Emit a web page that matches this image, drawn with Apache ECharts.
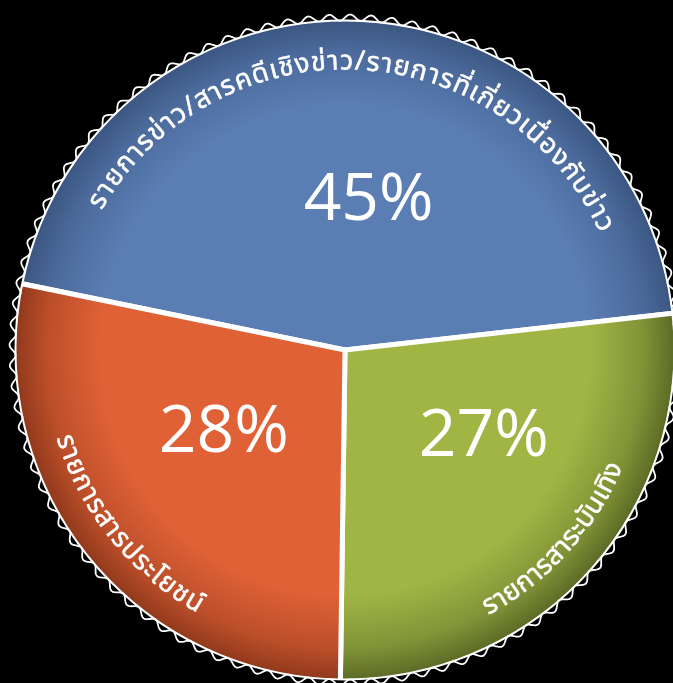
<!DOCTYPE html>
<html>
<head>
<meta charset="utf-8">
<script src="https://cdn.jsdelivr.net/npm/echarts@6/dist/echarts.min.js"></script>
<style>
html,body{margin:0;padding:0;background:#000;}
#chart{width:673px;height:683px;}
</style>
</head>
<body>
<div id="chart"></div>
<script>
// ---- data ----
const categories = [
  'รายการข่าว/สารคดีเชิงข่าว/รายการที่เกี่ยวเนื่องกับข่าว',
  'รายการสาระบันเทิง',
  'รายการสารประโยชน์'
];
const values = [45, 27, 28];

// ---- styles ----
const sliceColors = [
  ['#5a7db3', '#3a5580'],
  ['#a1b545', '#5a6925'],
  ['#e06136', '#8f381b']
];
const labelShift = [
  [16, 20],
  [14, -26],
  [10, -22]
];
const arcSpacing = [1.5, 0, 0.8];
const cx = 345, cy = 350, R = 331;
const startAngle = 168.4;
const THAI_FONT = '"Noto Sans Thai", "Noto Sans", "DejaVu Sans", sans-serif';
const arcFontSize = 27;

const chart = echarts.init(document.getElementById('chart'), null, {renderer: 'canvas'});

function grad(i) {
  return {
    type: 'radial', x: cx, y: cy, r: R, global: true,
    colorStops: [
      {offset: 0, color: sliceColors[i][0]},
      {offset: 0.74, color: sliceColors[i][0]},
      {offset: 0.9, color: echarts.color.lerp(0.45, [sliceColors[i][0], sliceColors[i][1]])},
      {offset: 1, color: sliceColors[i][1]}
    ]
  };
}

// mid angles (screen degrees) derived from data
const total = values.reduce((a, b) => a + b, 0);
let acc = 0;
const mids = values.map(v => {
  const a0 = -startAngle + acc / total * 360;
  acc += v;
  const a1 = -startAngle + acc / total * 360;
  return (a0 + a1) / 2;
});

const measureCtx = document.createElement('canvas').getContext('2d');
const graphics = [];

function arcText(text, midDeg, r, fontSize, spacing) {
  let parts;
  if (window.Intl && Intl.Segmenter) {
    parts = [...new Intl.Segmenter('th', {granularity: 'grapheme'}).segment(text)].map(s => s.segment);
  } else {
    parts = Array.from(text);
  }
  measureCtx.font = fontSize + 'px ' + THAI_FONT;
  const widths = parts.map(p => measureCtx.measureText(p).width);
  const len = widths.reduce((a, b) => a + b, 0) + spacing * (parts.length - 1);
  const mid = midDeg * Math.PI / 180;
  const bottom = Math.sin(mid) > 0;
  const dir = bottom ? -1 : 1;
  let s = -len / 2;
  parts.forEach((p, i) => {
    const sc = s + widths[i] / 2;
    const th = mid + dir * sc / r;
    const x = cx + r * Math.cos(th), y = cy + r * Math.sin(th);
    const rot = bottom ? -(th - Math.PI / 2) : -(th + Math.PI / 2);
    graphics.push({
      type: 'text', x: x, y: y, rotation: rot, z: 100, silent: true,
      style: {
        text: p, fill: '#ffffff', stroke: '#ffffff', lineWidth: 0.5,
        font: fontSize + 'px ' + THAI_FONT,
        align: 'center', verticalAlign: 'middle',
        textAlign: 'center', textVerticalAlign: 'middle'
      }
    });
    s += widths[i] + spacing;
  });
}

categories.forEach((c, i) => {
  const bottom = Math.sin(mids[i] * Math.PI / 180) > 0;
  arcText(c, mids[i], bottom ? 296 : 286, arcFontSize, arcSpacing[i]);
});

// black ring hiding outer slice border
graphics.push({
  type: 'circle', z: 90, silent: true,
  shape: {cx: cx, cy: cy, r: R + 3},
  style: {fill: 'none', stroke: '#000', lineWidth: 7}
});
// wavy decorative rim
const wavePts = [];
const N = 100, steps = 3000;
for (let k = 0; k <= steps; k++) {
  const t = k / steps * Math.PI * 2;
  const rr = 332.5 + 3 * Math.sin(N * t);
  wavePts.push([cx + rr * Math.cos(t), cy + rr * Math.sin(t)]);
}
graphics.push({
  type: 'polyline', z: 95, silent: true,
  shape: {points: wavePts},
  style: {fill: 'none', stroke: '#ffffff', lineWidth: 1.8}
});

chart.setOption({
  backgroundColor: '#000000',
  animation: false,
  series: [{
    type: 'pie',
    center: [cx, cy],
    radius: R,
    startAngle: startAngle,
    clockwise: true,
    avoidLabelOverlap: false,
    emphasis: {disabled: true},
    itemStyle: {borderColor: '#ffffff', borderWidth: 5},
    label: {
      show: true, position: 'inside', formatter: '{c}%',
      color: '#ffffff', fontSize: 66, fontFamily: '"Open Sans", sans-serif',
      fontWeight: 'normal', textBorderWidth: 0
    },
    labelLayout: function (p) {
      return {dx: labelShift[p.dataIndex][0], dy: labelShift[p.dataIndex][1]};
    },
    labelLine: {show: false},
    data: categories.map((n, i) => ({
      name: n, value: values[i],
      itemStyle: {color: grad(i)}
    }))
  }],
  graphic: {elements: graphics}
});
</script>
</body>
</html>
